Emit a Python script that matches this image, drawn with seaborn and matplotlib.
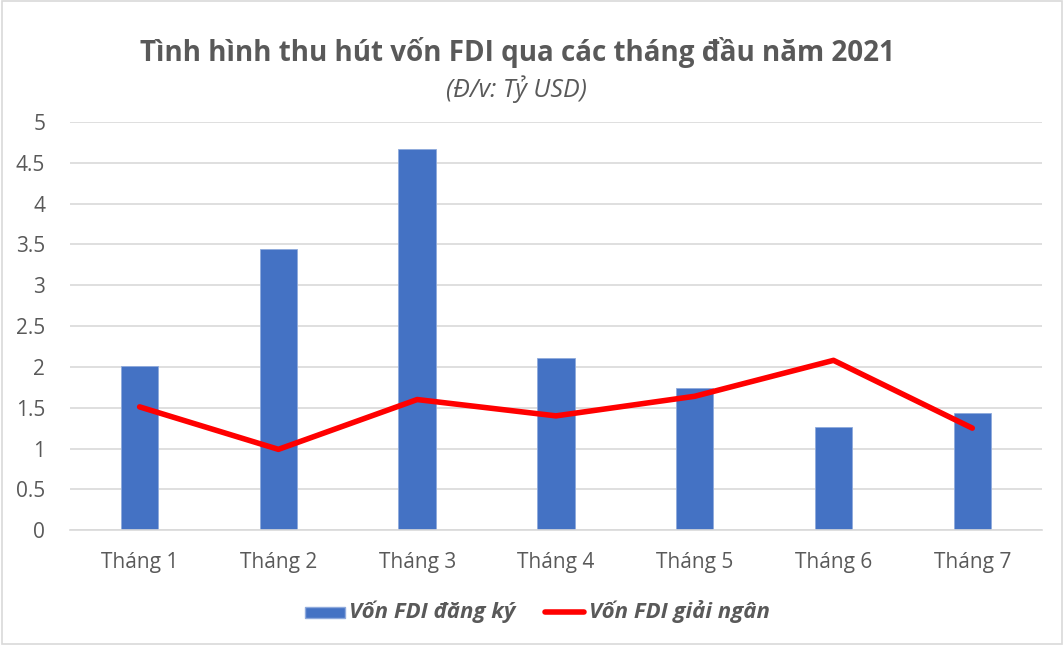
import pandas as pd
import matplotlib.pyplot as plt
import seaborn as sns
from matplotlib.patches import Patch
from matplotlib.lines import Line2D

# Số liệu (tỷ USD)
thang = ['Tháng 1', 'Tháng 2', 'Tháng 3', 'Tháng 4', 'Tháng 5', 'Tháng 6', 'Tháng 7']
von_dang_ky = [2.01, 3.44, 4.67, 2.11, 1.74, 1.26, 1.43]
von_giai_ngan = [1.51, 0.99, 1.60, 1.40, 1.64, 2.08, 1.25]

df = pd.DataFrame({'thang': thang, 'dang_ky': von_dang_ky, 'giai_ngan': von_giai_ngan})

sns.set_theme(style="white")
plt.rcParams['font.family'] = ['Open Sans', 'DejaVu Sans']
gray = '#595959'
blue = '#4472C4'
red = '#FF0000'

fig = plt.figure(figsize=(10.64, 6.45), dpi=100)
ax = fig.add_axes([0.066, 0.178, 0.913, 0.633])

sns.barplot(data=df, x='thang', y='dang_ky', color=blue, width=0.27,
            saturation=1, ax=ax, zorder=2, edgecolor='#8faadc', linewidth=0.6)
sns.lineplot(data=df, x='thang', y='giai_ngan', color=red, linewidth=4,
             ax=ax, zorder=3, sort=False)

ax.set_ylim(0, 5)
ax.set_yticks([0, 0.5, 1, 1.5, 2, 2.5, 3, 3.5, 4, 4.5, 5])
ax.set_yticklabels(['0', '0.5', '1', '1.5', '2', '2.5', '3', '3.5', '4', '4.5', '5'])
ax.set_xlim(-0.5, 6.5)
ax.yaxis.grid(True, color='#d9d9d9', linewidth=1.2, zorder=0)
ax.set_axisbelow(True)
ax.set_xlabel('')
ax.set_ylabel('')
ax.tick_params(axis='both', labelsize=15, colors=gray, length=0)
ax.tick_params(axis='x', pad=16)
ax.tick_params(axis='y', pad=18)
for s in ['top', 'right', 'left']:
    ax.spines[s].set_visible(False)
ax.spines['bottom'].set_color('#d9d9d9')
ax.spines['bottom'].set_linewidth(1.2)

fig.text(0.486, 0.918, 'Tình hình thu hút vốn FDI qua các tháng đầu năm 2021',
         ha='center', va='center', fontsize=20, fontweight='bold', color=gray)
fig.text(0.4855, 0.862, '(Đ/v: Tỷ USD)', ha='center', va='center',
         fontsize=18, style='italic', color=gray)

handles = [Patch(facecolor=blue, edgecolor='#8faadc'),
           Line2D([0], [0], color=red, linewidth=4)]
leg = fig.legend(handles, ['Vốn FDI đăng ký', 'Vốn FDI giải ngân'],
                 loc='center', bbox_to_anchor=(0.505, 0.052), ncol=2,
                 frameon=False, handlelength=2.6, handleheight=0.8,
                 handletextpad=0.3, columnspacing=1.9)
for t in leg.get_texts():
    t.set_color(gray)
    t.set_fontsize(16)
    t.set_fontweight('bold')
    t.set_fontstyle('italic')

fig.patches.append(plt.Rectangle((0.002, 0.002), 0.996, 0.996, transform=fig.transFigure,
                                 fill=False, edgecolor='#d9d9d9', linewidth=1.2))

fig.savefig('out.png', dpi=100)
